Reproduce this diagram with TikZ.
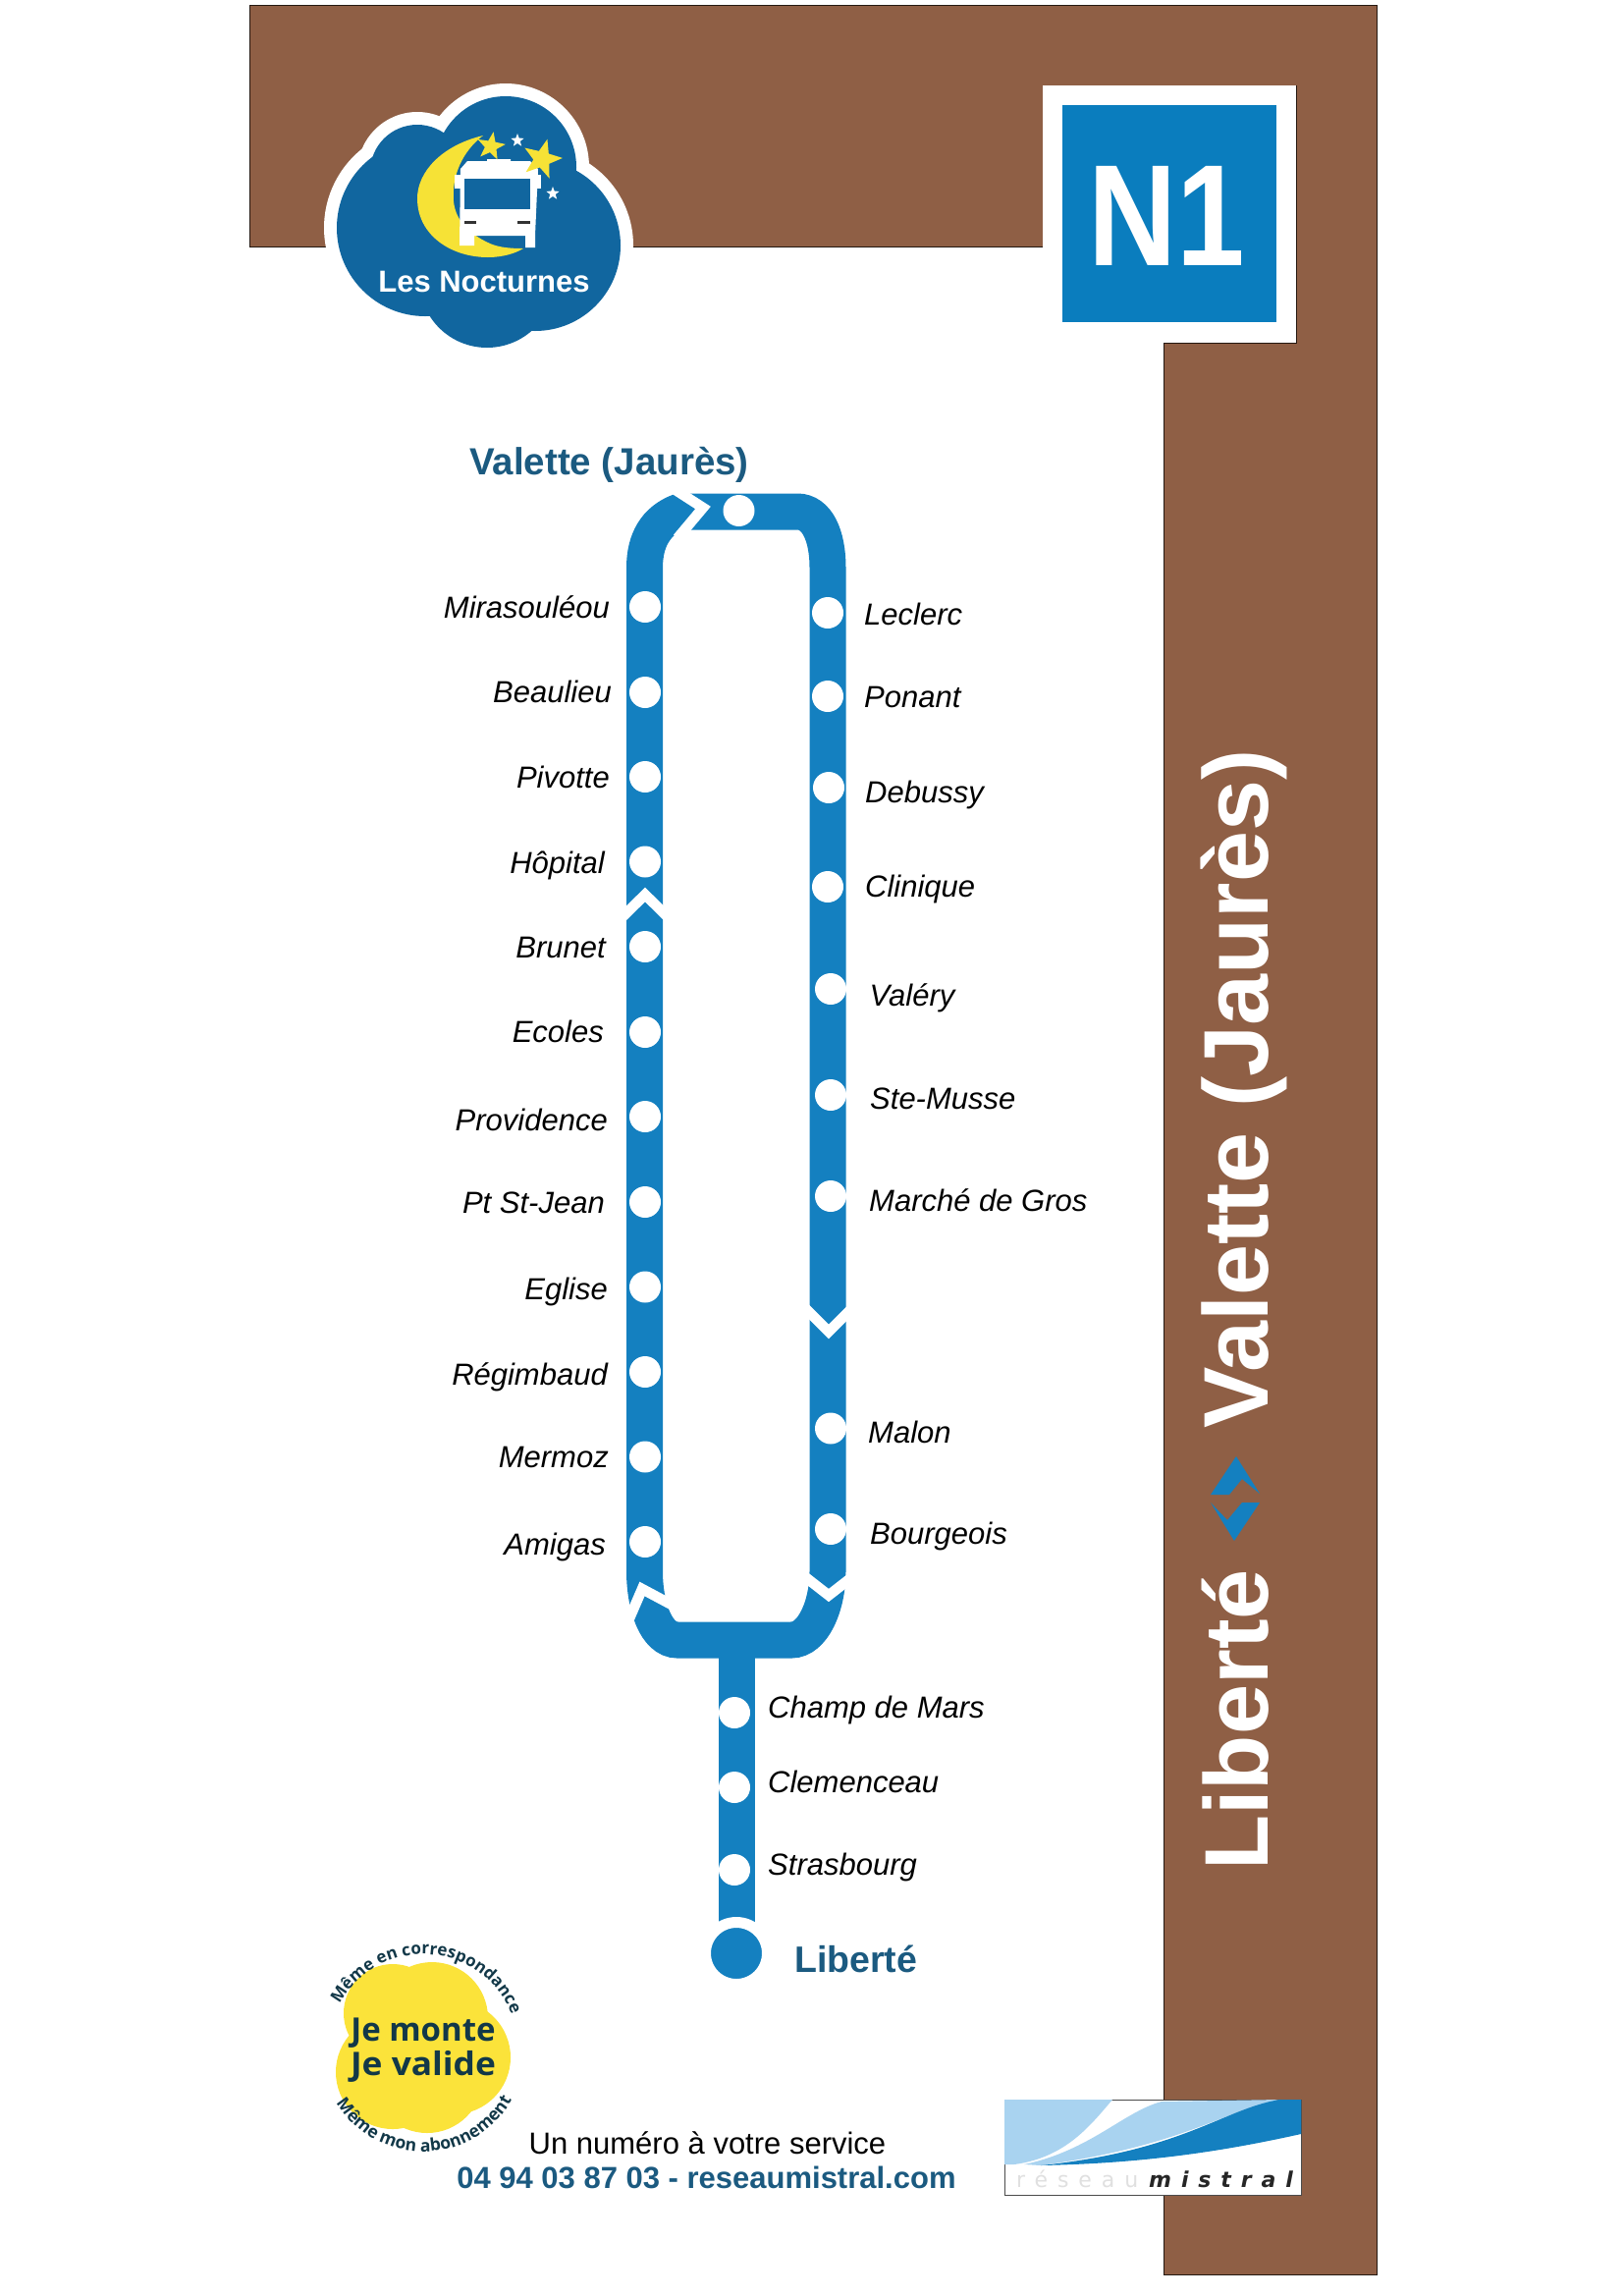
\documentclass[tikz,border=0pt]{standalone}
\usepackage{fontspec}
\setmainfont{Liberation Sans}
\newfontfamily\badgefont{Open Sans}
\newfontfamily\logofont[LetterSpace=45]{DejaVu Sans}
\usetikzlibrary{decorations.text,shapes.geometric}
\definecolor{bandbrown}{HTML}{8F5F45}
\definecolor{routeblue}{HTML}{1480C0}
\definecolor{signblue}{HTML}{0A7DBE}
\definecolor{cloudblue}{HTML}{11669F}
\definecolor{moonyellow}{HTML}{F6E236}
\definecolor{badgeyellow}{HTML}{FBE33A}
\definecolor{inkblue}{HTML}{1B5A80}
\definecolor{badgeink}{HTML}{123848}
\definecolor{wavelight}{HTML}{A9D3F0}
\newcommand{\pxfont}[1]{\fontsize{#1}{#1}\selectfont}
\newcommand{\cloudlobes}{515/170/72, 425/175/48, 433/232/90, 545/250/87, 496/285/69}
\newcommand{\badgelobes}{400/2050/50, 440/2055/57, 462/2095/58, 400/2110/58, 435/2115/57}
\tikzset{
  x=1pt, y=-1pt,
  route/.style={draw=routeblue, line width=37pt},
  cutmark/.style={draw=white, line width=10.5pt, miter limit=10},
  stopdot/.style={circle, fill=white, inner sep=0pt, minimum size=32pt},
  stoplabel/.style={font=\pxfont{31}\itshape, inner sep=0pt},
  endlabel/.style={font=\pxfont{38.5}\bfseries, text=inkblue, inner sep=0pt},
  bandlabel/.style={font=\pxfont{93.5}\bfseries, text=white, inner sep=0pt, rotate=90, anchor=base west},
  infotext/.style={inner sep=0pt, anchor=base},
  logotext/.style={font=\logofont\pxfont{22}, inner sep=0pt, anchor=base west},
  starmark/.style={star, star points=5, star point ratio=2.4, inner sep=0pt},
}
\begin{document}
\begin{tikzpicture}
  \useasboundingbox (0,0) rectangle (1654,2338);

  % Brown band
  \fill[bandbrown, draw=black!75!bandbrown, line width=1pt]
    (254,5) -- (1402,5) -- (1402,2316) -- (1185,2316) -- (1185,349) -- (1320,349)
    -- (1320,87) -- (1062,87) -- (1062,251) -- (254,251) -- cycle;

  % Line number sign
  \fill[white] (1062,87) rectangle (1320,349);
  \fill[signblue] (1082,107) rectangle (1300,328);
  \node[inner sep=0pt, anchor=base, text=white, font=\pxfont{147}\bfseries] (linenum) at (1188,270) {\scalebox{0.85}[1]{N1}};

  % Cloud
  \foreach \cx/\cy/\r in \cloudlobes {
    \fill[white] (\cx,\cy) circle ({\r+13});
  }
  \foreach \cx/\cy/\r in \cloudlobes {
    \fill[cloudblue] (\cx,\cy) circle (\r);
  }
  % Moon
  \fill[moonyellow] (492,138) .. controls (450,148) and (425,175) .. (425,202)
    .. controls (425,240) and (460,262) .. (497,262)
    .. controls (512,262) and (525,258) .. (533,253)
    .. controls (515,253) and (505,251) .. (497,247)
    .. controls (478,238) and (464,225) .. (462,205)
    .. controls (460,180) and (470,155) .. (492,138) -- cycle;
  % Bus
  \fill[white] (469,172) -- (476,164) -- (496,164) -- (496,162) -- (520,162) -- (520,164)
    -- (540,164) -- (548,172) -- (545,240) -- (545,252) -- (535,252) -- (535,240)
    -- (483,240) -- (483,250) -- (468,250) -- cycle;
  \fill[white] (463,178) rectangle (470,192);
  \fill[white] (547,178) rectangle (551,192);
  \fill[cloudblue] (473,182) rectangle (540,213);
  \fill[black!80] (473,225) rectangle (485,228);
  \fill[black!80] (527,225) rectangle (540,228);
  % Stars
  \node[starmark, fill=moonyellow, minimum size=30pt, rotate=-10] (staryellowa) at (500,149) {};
  \node[starmark, fill=moonyellow, minimum size=42pt, rotate=-15] (staryellowb) at (552,162) {};
  \node[starmark, fill=white, minimum size=14pt] (starwhitea) at (527,143) {};
  \node[starmark, fill=white, minimum size=14pt] (starwhiteb) at (563,197) {};
  \node[inner sep=0pt, anchor=base, text=white, font=\pxfont{31}\bfseries] (nocturnes) at (493,297) {Les Nocturnes};

  % Loop and stem
  \coordinate (topleft) at (656.5,578);
  \coordinate (topright) at (843,578);
  \coordinate (lowleft) at (656.5,1600);
  \coordinate (lowright) at (843,1600);
  \coordinate (stemtop) at (750,1670);
  \coordinate (stemfoot) at (750,1975);
  \draw[route] (lowleft) -- (topleft) .. controls (656.5,550) and (668,530) .. (692,521)
    -- (812,521) .. controls (832,521) and (843,545) .. (topright) -- (lowright)
    .. controls (843,1635) and (828,1670) .. (806,1670) -- (690,1670)
    .. controls (668,1670) and (656.5,1635) .. (lowleft);
  \draw[route] (stemtop) -- (stemfoot);
  \node[circle, fill=routeblue, draw=white, line width=11pt, inner sep=0pt, minimum size=63pt] (terminus) at (750,1989) {};

  % Direction marks
  \draw[cutmark] (685,497) -- (716,517) -- (690,548);
  \draw[cutmark] (632,935.5) -- (657,911) -- (682,935.5);
  \draw[cutmark] (819,1331) -- (844,1356) -- (869,1331);
  \draw[cutmark] (819,1605) -- (844,1624.5) -- (869,1605);
  \draw[cutmark] (638,1655) -- (654,1618) -- (684,1634);

  % Stops on the left
  \node[stopdot] (topstop) at (752.5,520) {};
  \foreach \i/\ystop/\lx/\ly/\lbl in {
    1/618/621/629/Mirasouléou, 2/705/623/715/Beaulieu, 3/791/621/802/Pivotte,
    4/877.5/616/889/Hôpital, 5/964/617/975.5/Brunet, 6/1051/615/1061/Ecoles,
    7/1137/619/1151/Providence, 8/1224/616/1235/Pt St-Jean, 9/1310.5/619/1323/Eglise,
    10/1397/619/1410/Régimbaud, 11/1483.5/620/1494/Mermoz, 12/1570/617/1583/Amigas} {
    \node[stopdot] (left\i) at (657,\ystop) {};
    \node[stoplabel, anchor=base east] (lefttxt\i) at (\lx,\ly) {\lbl};
  }

  % Stops on the right
  \foreach \i/\xstop/\ystop/\lx/\ly/\lbl in {
    1/843/624/880/636/Leclerc, 2/843/709/880/720/Ponant, 3/844/802/881/817/Debussy,
    4/843/903/881/913/Clinique, 5/846/1007/885.5/1024/Valéry, 6/846/1115/886/1129/Ste-Musse,
    7/846/1218/885/1233/Marché de Gros, 8/846/1454.5/884/1469/Malon, 9/846/1557/886/1572/Bourgeois} {
    \node[stopdot] (right\i) at (\xstop,\ystop) {};
    \node[stoplabel, anchor=base west] (righttxt\i) at (\lx,\ly) {\lbl};
  }

  % Stops on the stem
  \foreach \i/\ystop/\ly/\lbl in {1/1744/1749/Champ de Mars, 2/1820/1825/Clemenceau, 3/1904/1909/Strasbourg} {
    \node[stopdot] (stem\i) at (748,\ystop) {};
    \node[stoplabel, anchor=base west] (stemtxt\i) at (782,\ly) {\lbl};
  }

  % Terminus names
  \node[endlabel, anchor=base west] (valettename) at (478,483) {Valette (Jaurès)};
  \node[endlabel, anchor=base west, font=\pxfont{37.5}\bfseries] (libertename) at (809,2008) {Liberté};

  % Text on the band
  \node[bandlabel, font=\pxfont{92}\bfseries] (bandfrom) at (1291.5,1905) {Liberté};
  \node[bandlabel] (bandto) at (1291.5,1455) {Valette (Jaurès)};
  \fill[routeblue] (1233,1522) -- (1259,1483) -- (1283,1521) -- (1265,1506) -- (1252,1522) -- cycle;
  \fill[routeblue] (1233,1530) -- (1250,1548) -- (1265,1530) -- (1283,1530) -- (1257,1569) -- cycle;

  % Validation badge
  \foreach \cx/\cy/\r in \badgelobes {
    \fill[badgeyellow] (\cx,\cy) circle (\r);
  }
  \node[inner sep=0pt, anchor=base, text=badgeink, font=\badgefont\pxfont{33}\bfseries] (badgea) at (431,2078) {Je monte};
  \node[inner sep=0pt, anchor=base, text=badgeink, font=\badgefont\pxfont{33}\bfseries] (badgeb) at (431,2113) {\scalebox{1.07}[1]{Je valide}};
  \path[shift={(431,2087)}, decorate, decoration={text along path, text align=center,
      text={|\badgefont\pxfont{17}\bfseries\color{badgeink}|Même en correspondance}}]
    (202:97) arc (202:345:97);
  \path[shift={(431,2087)}, decorate, decoration={text along path, text align=center,
      text={|\badgefont\pxfont{17.5}\bfseries\color{badgeink}|Même mon abonnement}}]
    (152:104) arc (152:26:104);

  % Service lines
  \node[infotext, font=\pxfont{31}] (phoneline) at (720.5,2193) {Un numéro à votre service};
  \node[infotext, font=\pxfont{31}\bfseries, text=inkblue] (webline) at (719.5,2228) {04 94 03 87 03 - reseaumistral.com};

  % Network logo
  \fill[white, draw=black!70, line width=1pt] (1023,2138) rectangle (1325,2235);
  \fill[wavelight] (1023,2138) -- (1133,2138) .. controls (1110,2165) and (1085,2197) .. (1033,2204) -- (1023,2204) -- cycle;
  \fill[wavelight] (1043,2204) .. controls (1110,2190) and (1145,2150) .. (1183,2140) -- (1303,2138)
    .. controls (1245,2150) and (1205,2185) .. (1060,2205) -- cycle;
  \fill[routeblue] (1060,2205) .. controls (1205,2190) and (1245,2148) .. (1303,2138) -- (1325,2138)
    -- (1325,2173) .. controls (1240,2192) and (1160,2203) .. (1060,2205) -- cycle;
  \node[logotext, text=black!12] (reseauword) at (1035,2227) {réseau};
  \node[logotext, text=black!85, font=\logofont\pxfont{22}\bfseries\itshape] (mistralword) at (1170,2227) {mistral};
\end{tikzpicture}
\end{document}
